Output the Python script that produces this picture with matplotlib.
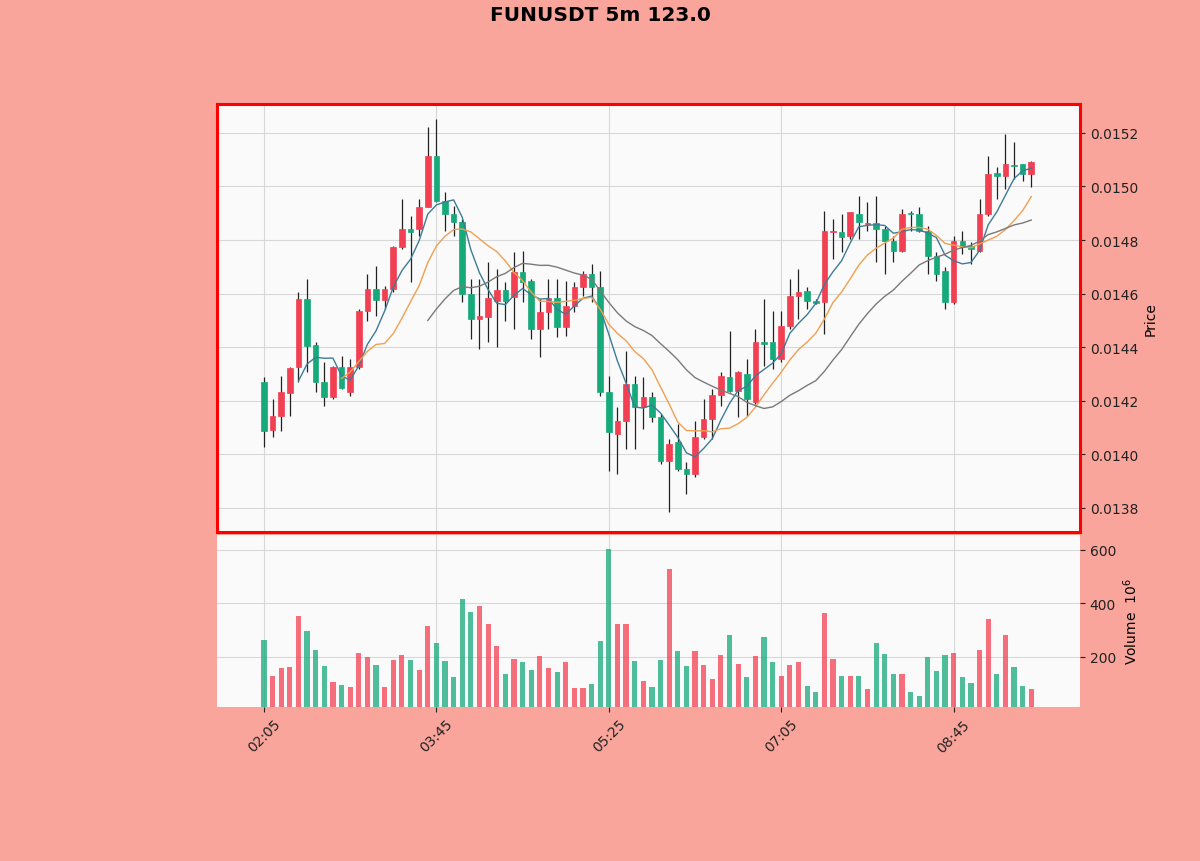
import numpy as np
import pandas as pd
import matplotlib
matplotlib.use("Agg")
import matplotlib.pyplot as plt
from matplotlib.ticker import FormatStrFormatter

# FUNUSDT 5분봉 (02:05 ~ 09:30), 그림에서 읽은 값
opens = [14270, 14091, 14144, 14230, 14326, 14580, 14409, 14270, 14215, 14326,
         14233, 14326, 14536, 14618, 14577, 14618, 14774, 14842, 14842, 14924,
         15114, 14946, 14898, 14868, 14599, 14506, 14513, 14573, 14614, 14588,
         14681, 14647, 14468, 14532, 14584, 14476, 14554, 14625, 14674, 14625,
         14233, 14076, 14125, 14263, 14177, 14215, 14140, 13976, 14046, 13946,
         13927, 14065, 14132, 14222, 14289, 14237, 14300, 14196, 14420, 14420,
         14356, 14480, 14592, 14610, 14573, 14569, 14830, 14830, 14815, 14898,
         14860, 14864, 14842, 14797, 14760, 14901, 14898, 14834, 14741, 14685,
         14569, 14797, 14778, 14760, 14898, 15051, 15040, 15079, 15084, 15047]
highs = [14289, 14207, 14293, 14326, 14606, 14655, 14420, 14345, 14330, 14368,
         14356, 14543, 14674, 14704, 14630, 14778, 14954, 14890, 14954, 15222,
         15252, 14980, 14928, 14879, 14655, 14655, 14718, 14692, 14644, 14756,
         14760, 14655, 14580, 14655, 14655, 14647, 14644, 14685, 14711, 14685,
         14293, 14177, 14386, 14293, 14289, 14233, 14151, 14058, 14114, 13972,
         14125, 14207, 14244, 14308, 14461, 14312, 14356, 14468, 14580, 14536,
         14536, 14655, 14692, 14625, 14580, 14909, 14879, 14898, 14905, 14965,
         14942, 14965, 14853, 14815, 14916, 14909, 14924, 14853, 14756, 14700,
         14815, 14834, 14793, 14954, 15114, 15073, 15196, 15166, 15084, 15096]
lows = [14028, 14065, 14088, 14144, 14270, 14308, 14233, 14181, 14207, 14244,
        14218, 14319, 14498, 14517, 14543, 14606, 14767, 14644, 14815, 14924,
        14942, 14834, 14815, 14569, 14431, 14394, 14420, 14401, 14498, 14468,
        14569, 14431, 14364, 14468, 14438, 14442, 14532, 14592, 14569, 14218,
        13938, 13927, 14020, 14020, 14095, 14121, 13964, 13785, 13938, 13852,
        13916, 14058, 14058, 14181, 14233, 14140, 14144, 14188, 14330, 14319,
        14345, 14468, 14506, 14543, 14562, 14450, 14730, 14756, 14804, 14804,
        14834, 14718, 14674, 14718, 14756, 14834, 14830, 14674, 14647, 14543,
        14562, 14748, 14711, 14756, 14890, 14954, 14991, 15028, 15021, 14998]
closes = [14088, 14144, 14233, 14323, 14580, 14405, 14270, 14215, 14326, 14248,
          14326, 14536, 14618, 14577, 14618, 14774, 14842, 14830, 14924, 15114,
          14946, 14898, 14868, 14599, 14506, 14517, 14584, 14614, 14573, 14681,
          14644, 14468, 14532, 14584, 14476, 14554, 14625, 14674, 14625, 14233,
          14084, 14125, 14263, 14177, 14215, 14140, 13976, 14039, 13946, 13927,
          14065, 14132, 14222, 14293, 14237, 14308, 14207, 14420, 14412, 14356,
          14480, 14592, 14606, 14573, 14565, 14834, 14830, 14812, 14905, 14868,
          14860, 14842, 14797, 14760, 14898, 14898, 14834, 14741, 14674, 14569,
          14797, 14774, 14767, 14898, 15047, 15040, 15084, 15077, 15047, 15092]
volumes = [263, 130, 159, 161, 354, 296, 227, 166, 108, 94,
           87, 215, 201, 170, 89, 190, 206, 188, 151, 317,
           252, 185, 124, 417, 367, 389, 323, 240, 137, 192,
           180, 151, 203, 158, 145, 180, 83, 83, 97, 261,
           604, 323, 323, 184, 111, 87, 189, 529, 221, 168,
           221, 170, 118, 207, 282, 174, 126, 203, 276, 180,
           130, 170, 182, 90, 68, 363, 192, 130, 130, 128,
           80, 251, 211, 136, 136, 68, 55, 199, 149, 207,
           215, 124, 102, 226, 342, 136, 283, 161, 90, 80]

df = pd.DataFrame({"Open": opens, "High": highs, "Low": lows,
                   "Close": closes, "Volume": volumes})
df[["Open", "High", "Low", "Close"]] = df[["Open", "High", "Low", "Close"]] * 1e-6
df.index = pd.date_range("2024-01-01 02:05", periods=len(df), freq="5min")

up_color = "#f23f52"    # 상승 = 빨강
down_color = "#16a97a"  # 하락 = 초록
bg = "#f9a59c"

x = np.arange(len(df))
up = df["Close"] >= df["Open"]
colors = np.where(up, up_color, down_color)

fig = plt.figure(figsize=(12, 8.62), dpi=100, facecolor=bg)
ax = fig.add_axes([0.1808, 0.3817, 0.7192, 0.4965])
ax_vol = fig.add_axes([0.1808, 0.1787, 0.7192, 0.1995], sharex=ax)

for a in (ax, ax_vol):
    a.set_facecolor("#fafafa")
    a.grid(True, color="#d8d8d8", linewidth=0.8)
    a.set_axisbelow(True)
    a.yaxis.tick_right()
    a.yaxis.set_label_position("right")

# 캔들
ax.vlines(x, df["Low"], df["High"], color="#222222", linewidth=0.9, zorder=2)
body_bottom = np.minimum(df["Open"], df["Close"])
body_height = np.maximum(np.abs(df["Close"] - df["Open"]), 3e-6)
ax.bar(x, body_height, bottom=body_bottom, width=0.65, color=colors,
       edgecolor=colors, linewidth=0.5, zorder=3)

# 이동평균선
for win, col in [(5, "#3d7c98"), (10, "#f0a050"), (20, "#7a7a7a")]:
    ax.plot(x, df["Close"].rolling(win).mean(), color=col, linewidth=1.0, zorder=4)

ax.set_xlim(-5.45, 94.65)
ax.set_ylim(0.013710, 0.015308)
ax.set_yticks(np.arange(0.0138, 0.01521, 0.0002))
ax.yaxis.set_major_formatter(FormatStrFormatter("%.4f"))
ax.set_ylabel("Price", fontsize=10)
ax.tick_params(axis="x", labelbottom=False, length=0)
for s in ax.spines.values():
    s.set_color("red")
    s.set_linewidth(2.2)

# 거래량
ax_vol.bar(x, df["Volume"], width=0.6, color=colors, alpha=0.75, zorder=3)
ax_vol.set_ylim(13, 656)
ax_vol.set_yticks([200, 400, 600])
ax_vol.set_ylabel("Volume  $10^{6}$", fontsize=10)
for s in ax_vol.spines.values():
    s.set_visible(False)

tick_pos = x[::20]
ax_vol.set_xticks(tick_pos)
ax_vol.set_xticklabels(df.index[::20].strftime("%H:%M"), rotation=45)

for a in (ax, ax_vol):
    a.tick_params(labelsize=10, colors="#222222")

fig.suptitle("FUNUSDT 5m 123.0", fontsize=14.5, fontweight="bold", y=0.993)

plt.savefig("out.png", dpi=100, facecolor=bg)
